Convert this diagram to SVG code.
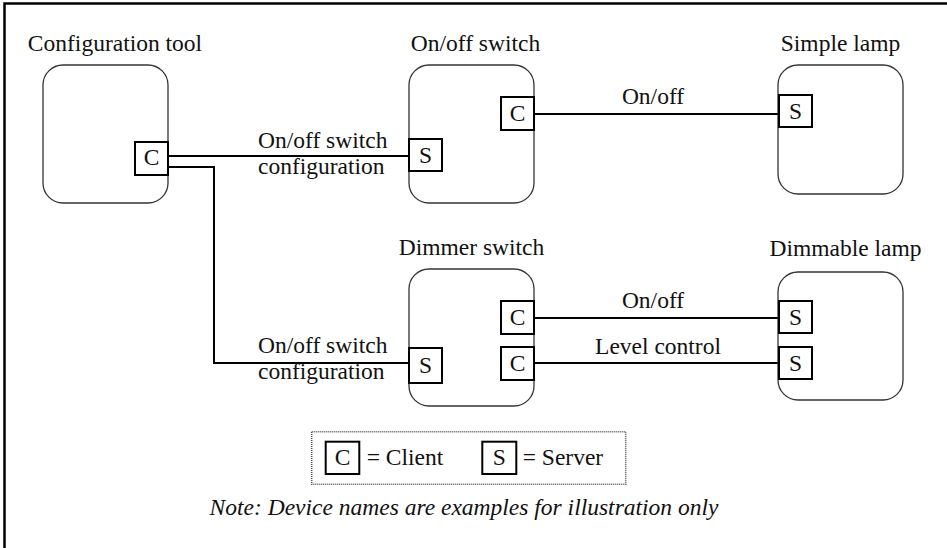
<svg xmlns="http://www.w3.org/2000/svg" width="947" height="548" viewBox="0 0 947 548">
  <style>
    text { font-family: "Liberation Serif", "Times New Roman", serif; font-size: 23.5px; fill: #111; }
    .title { text-anchor: middle; }
    .mid { text-anchor: middle; }
    .note { font-style: italic; text-anchor: middle; }
    .device { fill: #fff; stroke: #333; stroke-width: 1.3; }
    .port { fill: #fff; stroke: #000; stroke-width: 2; }
    .wire { fill: none; stroke: #000; stroke-width: 2; }
    .frame { fill: none; stroke: #000; stroke-width: 2.5; }
    .legend { fill: #fff; stroke: #555; stroke-width: 1.6; stroke-dasharray: 1 1; }
  </style>

  <rect class="frame" x="4.5" y="3.5" width="960" height="560"/>

  <!-- connectors -->
  <g id="connectors">
    <line class="wire" x1="168" y1="156" x2="409" y2="156"/>
    <polyline class="wire" points="168,167 214,167 214,363 409,363"/>
    <line class="wire" x1="534" y1="114" x2="782" y2="114"/>
    <line class="wire" x1="534" y1="318" x2="782" y2="318"/>
    <line class="wire" x1="534" y1="363" x2="782" y2="363"/>
    <text x="258" y="148">On/off switch</text>
    <text x="258" y="174">configuration</text>
    <text x="258" y="353">On/off switch</text>
    <text x="258" y="379">configuration</text>
    <text class="mid" x="653" y="104">On/off</text>
    <text class="mid" x="653" y="308">On/off</text>
    <text class="mid" x="658" y="354">Level control</text>
  </g>

  <g id="configuration-tool">
    <text class="title" x="115" y="51">Configuration tool</text>
    <rect class="device" x="43" y="65" width="125" height="138" rx="20"/>
    <rect class="port" x="135" y="142" width="33" height="33"/>
    <text class="mid" x="151.5" y="165">C</text>
  </g>

  <g id="onoff-switch">
    <text class="title" x="475.5" y="51">On/off switch</text>
    <rect class="device" x="409" y="65" width="125" height="138" rx="20"/>
    <rect class="port" x="409" y="139" width="33" height="32"/>
    <text class="mid" x="425.5" y="163">S</text>
    <rect class="port" x="501" y="97" width="33" height="33"/>
    <text class="mid" x="517.5" y="121">C</text>
  </g>

  <g id="simple-lamp">
    <text class="title" x="840.5" y="51">Simple lamp</text>
    <rect class="device" x="778" y="65" width="125" height="129" rx="20"/>
    <rect class="port" x="779" y="95" width="33" height="32"/>
    <text class="mid" x="795.5" y="119">S</text>
  </g>

  <g id="dimmer-switch">
    <text class="title" x="471.5" y="255">Dimmer switch</text>
    <rect class="device" x="409" y="269" width="125" height="137" rx="20"/>
    <rect class="port" x="409" y="348" width="33" height="35"/>
    <text class="mid" x="425.5" y="373">S</text>
    <rect class="port" x="501" y="301" width="33" height="33"/>
    <text class="mid" x="517.5" y="325">C</text>
    <rect class="port" x="501" y="347" width="33" height="33"/>
    <text class="mid" x="517.5" y="371">C</text>
  </g>

  <g id="dimmable-lamp">
    <text class="title" x="845.5" y="256">Dimmable lamp</text>
    <rect class="device" x="778" y="272" width="125" height="128" rx="20"/>
    <rect class="port" x="779" y="301" width="33" height="32"/>
    <text class="mid" x="795.5" y="325">S</text>
    <rect class="port" x="779" y="347" width="33" height="32"/>
    <text class="mid" x="795.5" y="371">S</text>
  </g>

  <g id="legend">
    <rect class="legend" x="311.7" y="431.7" width="314" height="52.6"/>
    <rect class="port" x="325.7" y="441.7" width="33.6" height="32.3"/>
    <text class="mid" x="342.5" y="465">C</text>
    <text x="366.7" y="465">= Client</text>
    <rect class="port" x="482.3" y="441.7" width="34" height="32.3"/>
    <text class="mid" x="499.3" y="465">S</text>
    <text x="522.7" y="465">= Server</text>
  </g>

  <text class="note" x="464" y="515">Note: Device names are examples for illustration only</text>
</svg>
